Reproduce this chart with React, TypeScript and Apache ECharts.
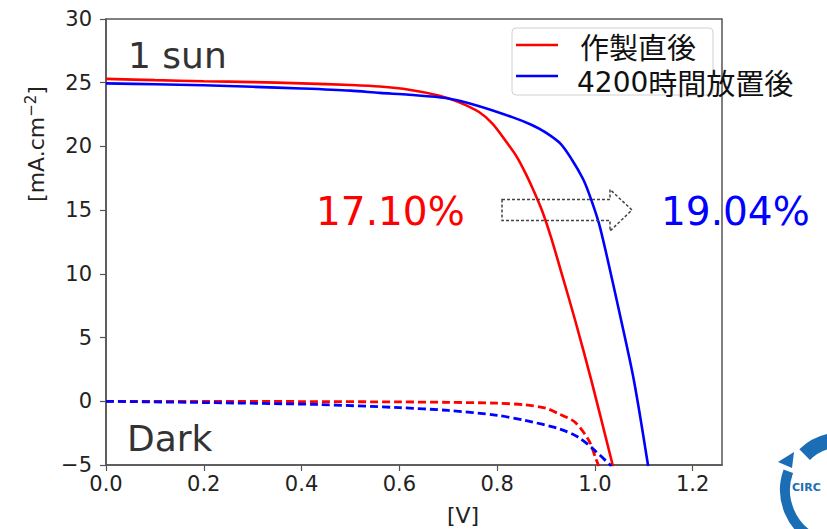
import React, { useEffect, useRef } from "react";
import * as echarts from "echarts";

const xTicks = [0, 0.2, 0.4, 0.6, 0.8, 1.0, 1.2];
const yTicks = [-5, 0, 5, 10, 15, 20, 25, 30];

const seriesNames = ["作製直後", "4200時間放置後"];
const percentLabels = ["17.10%", "19.04%"];
const panelLabels = ["1 sun", "Dark"];

const redLight: [number, number][] = [
  [0, 25.3], [0.1, 25.2], [0.2, 25.12], [0.3, 25.05], [0.4, 24.95], [0.5, 24.82],
  [0.56, 24.7], [0.62, 24.45], [0.68, 24.0], [0.72, 23.5], [0.763, 22.7], [0.79, 21.8],
  [0.818, 20.4], [0.84, 19.2], [0.858, 17.9], [0.875, 16.5], [0.892, 14.95], [0.91, 12.9],
  [0.93, 10.3], [0.96, 6.3], [0.993, 1.6], [1.037, -5.1],
];
const blueLight: [number, number][] = [
  [0, 24.95], [0.1, 24.88], [0.2, 24.8], [0.3, 24.68], [0.4, 24.55], [0.5, 24.38],
  [0.56, 24.2], [0.62, 24.05], [0.695, 23.8], [0.76, 23.2], [0.831, 22.3], [0.87, 21.7],
  [0.899, 21.1], [0.93, 20.2], [0.954, 18.9], [0.975, 17.5], [0.988, 16.3], [1.008, 14.0],
  [1.025, 11.3], [1.05, 7.0], [1.08, 1.6], [1.109, -5.1],
];
const redDark: [number, number][] = [
  [0, 0], [0.2, 0], [0.4, -0.02], [0.6, -0.05], [0.7, -0.08], [0.8, -0.15], [0.857, -0.28],
  [0.9, -0.55], [0.927, -1.0], [0.96, -1.66], [0.988, -3.1], [1.001, -4.4], [1.008, -5.1],
];
const blueDark: [number, number][] = [
  [0, 0], [0.2, -0.1], [0.43, -0.25], [0.6, -0.5], [0.7, -0.72], [0.8, -1.1], [0.857, -1.5],
  [0.927, -2.16], [0.967, -2.84], [1.001, -3.9], [1.034, -5.1],
];

const RED = "#ff0000";
const BLUE = "#0000ff";
const FONT = "DejaVu Sans";
const CJK = "Noto Sans CJK JP";
const LOGO = "#1b6db5";

export default function App() {
  const ref = useRef<HTMLDivElement>(null);
  useEffect(() => {
    if (!ref.current) return;
    const chart = echarts.init(ref.current, null, { renderer: "svg" });
    const lineSeries = (data: [number, number][], color: string, dashed: boolean) => ({
      type: "line",
      data,
      showSymbol: false,
      smooth: 0.3,
      clip: true,
      lineStyle: { color, width: dashed ? 2.8 : 2.6, type: dashed ? [8, 4] : "solid" },
      z: 3,
    });
    chart.setOption({
      animation: false,
      backgroundColor: "#ffffff",
      textStyle: { fontFamily: FONT },
      grid: {
        left: 106, top: 19, width: 616, height: 446,
        show: true, borderColor: "#555", borderWidth: 1.5, backgroundColor: "transparent",
      },
      xAxis: {
        type: "value", min: 0, max: 1.26,
        axisLine: { show: true, onZero: false, lineStyle: { color: "#555", width: 1.5 } },
        axisTick: { show: true, length: 6, customValues: xTicks, lineStyle: { color: "#555", width: 1.2 } },
        axisLabel: {
          customValues: xTicks, margin: 8, fontSize: 21, color: "#222", fontFamily: FONT,
          formatter: (v: number) => v.toFixed(1),
        },
        splitLine: { show: false },
      },
      yAxis: {
        type: "value", min: -5, max: 30,
        axisLine: { show: true, onZero: false, lineStyle: { color: "#555", width: 1.5 } },
        axisTick: { show: true, length: 6, customValues: yTicks, lineStyle: { color: "#555", width: 1.2 } },
        axisLabel: {
          customValues: yTicks, margin: 14, fontSize: 21, color: "#222", fontFamily: FONT,
          formatter: (v: number) => (v < 0 ? "\u2212" + Math.abs(v) : String(v)),
        },
        splitLine: { show: false },
      },
      series: [
        lineSeries(redLight, RED, false),
        lineSeries(blueLight, BLUE, false),
        lineSeries(redDark, RED, true),
        lineSeries(blueDark, BLUE, true),
      ],
      graphic: [
        // legend box
        { type: "rect", z: 100, shape: { x: 512, y: 28, width: 201, height: 67, r: 4 },
          style: { fill: "rgba(255,255,255,0.85)", stroke: "#d0d0d0", lineWidth: 1 } },
        { type: "line", z: 101, shape: { x1: 516, y1: 45, x2: 558, y2: 45 },
          style: { stroke: RED, lineWidth: 2.6 } },
        { type: "line", z: 101, shape: { x1: 516, y1: 76, x2: 558, y2: 76 },
          style: { stroke: BLUE, lineWidth: 2.6 } },
        { type: "text", z: 101, x: 580, y: 46,
          style: { text: seriesNames[0], font: `29px "${CJK}"`, fill: "#111", textAlign: "left", textVerticalAlign: "middle" } },
        { type: "text", z: 101, x: 577, y: 82,
          style: {
            text: "{d|" + seriesNames[1].slice(0, 4) + "}" + seriesNames[1].slice(4),
            font: `29px "${CJK}"`, fill: "#111", textAlign: "left", textVerticalAlign: "middle",
            rich: { d: { fontFamily: FONT, fontSize: 28, fill: "#111" } },
          } },
        // panel labels
        { type: "text", z: 100, x: 128, y: 55,
          style: { text: panelLabels[0], font: `36px "${FONT}"`, fill: "#333", textAlign: "left", textVerticalAlign: "middle" } },
        { type: "text", z: 100, x: 127, y: 438,
          style: { text: panelLabels[1], font: `36px "${FONT}"`, fill: "#333", textAlign: "left", textVerticalAlign: "middle" } },
        // efficiencies
        { type: "text", z: 100, x: 316, y: 211,
          style: { text: percentLabels[0], font: `39px "${FONT}"`, fill: RED, textAlign: "left", textVerticalAlign: "middle" } },
        { type: "text", z: 100, x: 661, y: 211,
          style: { text: percentLabels[1], font: `39px "${FONT}"`, fill: BLUE, textAlign: "left", textVerticalAlign: "middle" } },
        // arrow
        { type: "polygon", z: 100,
          shape: { points: [[502, 199.5], [610, 199.5], [610, 189.5], [632, 210], [610, 231], [610, 220.5], [502, 220.5]] },
          style: { fill: "none", stroke: "#444", lineWidth: 1.5, lineDash: [3, 2] } },
        // axis titles
        { type: "text", z: 100, x: 463, y: 515,
          style: { text: "[V]", font: `22px "${FONT}"`, fill: "#222", textAlign: "center", textVerticalAlign: "middle" } },
        { type: "text", z: 100, x: 36, y: 144, rotation: Math.PI / 2,
          style: {
            text: "[mA.cm{s|\u22122}]",
            font: `22px "${FONT}"`, fill: "#222", textAlign: "center", textVerticalAlign: "middle",
            rich: { s: { fontSize: 15, fontFamily: FONT, fill: "#222", verticalAlign: "top", padding: [0, 0, 10, 0] } },
          } },
        // logo (partial, cut by page edge)
        { type: "arc", z: 100, shape: { cx: 840, cy: 490, r: 50, startAngle: (-135 * Math.PI) / 180, endAngle: (-55 * Math.PI) / 180, clockwise: true },
          style: { stroke: LOGO, lineWidth: 15, fill: "none" } },
        { type: "arc", z: 100, shape: { cx: 840, cy: 490, r: 55, startAngle: (115 * Math.PI) / 180, endAngle: (200 * Math.PI) / 180, clockwise: true },
          style: { stroke: LOGO, lineWidth: 10, fill: "none" } },
        { type: "polygon", z: 100, shape: { points: [[778, 462], [794, 452], [792, 468]] },
          style: { fill: LOGO } },
        { type: "text", z: 101, x: 792, y: 487,
          style: { text: "CIRC", font: `bold 11px "${FONT}"`, fill: LOGO, textAlign: "left", textVerticalAlign: "middle" } },
      ],
    });
    return () => chart.dispose();
  }, []);
  return (
    <div
      ref={ref}
      style={{ position: "fixed", left: 0, top: 0, width: 827, height: 529, background: "#fff" }}
    />
  );
}
